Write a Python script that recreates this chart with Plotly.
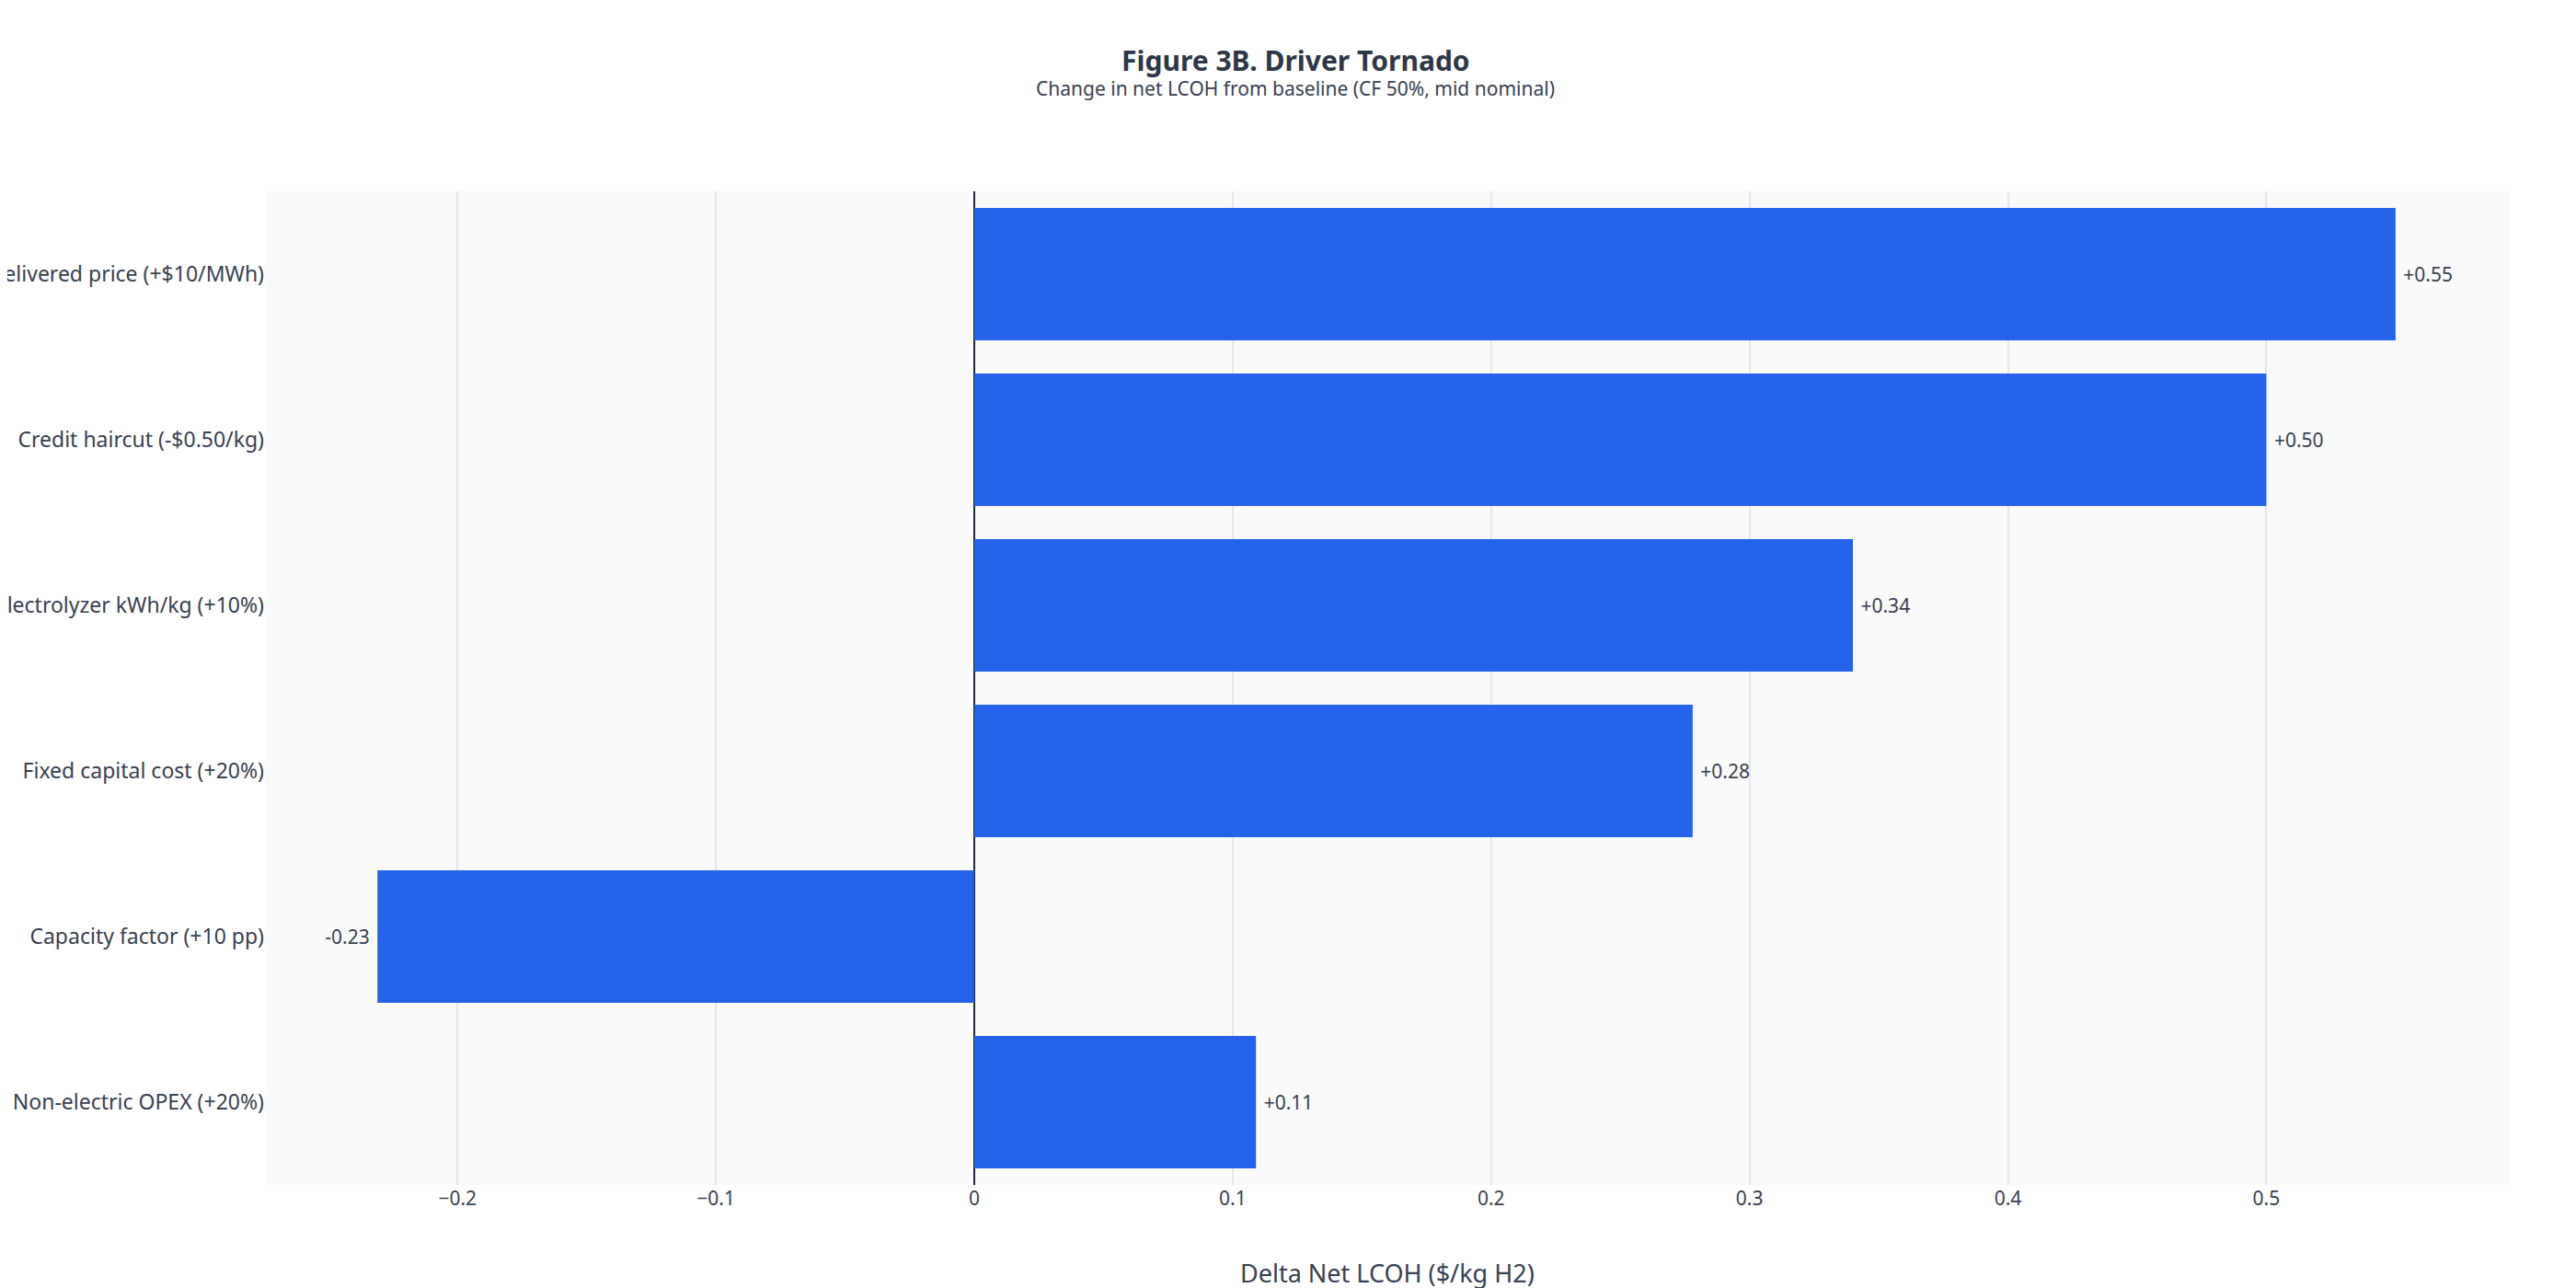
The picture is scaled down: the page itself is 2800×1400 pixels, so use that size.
import plotly.graph_objects as go

drivers = [
    "Electricity delivered price (+$10/MWh)",
    "Credit haircut (-$0.50/kg)",
    "Electrolyzer kWh/kg (+10%)",
    "Fixed capital cost (+20%)",
    "Capacity factor (+10 pp)",
    "Non-electric OPEX (+20%)",
]
deltas = [0.55, 0.50, 0.34, 0.278, -0.231, 0.109]
tick_vals = [-0.2, -0.1, 0, 0.1, 0.2, 0.3, 0.4, 0.5]
tick_text = ["\u22120.2", "\u22120.1", "0", "0.1", "0.2", "0.3", "0.4", "0.5"]

NB = "\u00a0"
labels = [(NB + f"{v:+.2f}") if v >= 0 else (f"{v:+.2f}" + NB) for v in deltas]

FONT = "Segoe UI, Noto Sans, Open Sans, sans-serif"
TXT = "#374151"

fig = go.Figure(
    go.Bar(
        y=drivers,
        x=deltas,
        orientation="h",
        marker=dict(color="#2563eb", line=dict(width=0)),
        text=labels,
        textposition="outside",
        textfont=dict(family=FONT, size=21, color=TXT),
        cliponaxis=False,
    )
)

fig.update_layout(
    width=2800,
    height=1400,
    margin=dict(l=280, r=80, t=200, b=120, autoexpand=False),
    paper_bgcolor="white",
    plot_bgcolor="#fafafa",
    bargap=0.2,
    showlegend=False,
    font=dict(family=FONT, color=TXT),
    annotations=[
        dict(text="<b>Figure 3B. Driver Tornado</b>", xref="paper", yref="paper",
             x=(1400 - 280) / 2440, y=(1280 - 58) / 1080, xanchor="center", yanchor="middle",
             showarrow=False, font=dict(family=FONT, size=30, color="#2d3748")),
        dict(text="Change in net LCOH from baseline (CF 50%, mid nominal)", xref="paper", yref="paper",
             x=(1400 - 280) / 2440, y=(1280 - 88) / 1080, xanchor="center", yanchor="middle",
             showarrow=False, font=dict(family=FONT, size=21, color=TXT)),
        dict(text="Delta Net LCOH ($/kg H2)", xref="paper", yref="paper",
             x=0.5, y=(1280 - 1375) / 1080, xanchor="center", yanchor="middle",
             showarrow=False, font=dict(family=FONT, size=27, color=TXT)),
    ],
)

fig.update_xaxes(
    range=[-0.2745, 0.5942],
    tickvals=tick_vals,
    ticktext=tick_text,
    showgrid=True,
    gridcolor="#e5e7eb",
    gridwidth=2,
    zeroline=True,
    zerolinecolor="#1f2937",
    zerolinewidth=2,
    showline=False,
    tickfont=dict(family=FONT, size=21, color=TXT),
    automargin=False,
)
fig.update_yaxes(
    autorange="reversed",
    showgrid=False,
    tickfont=dict(family=FONT, size=23, color=TXT),
    automargin=False,
    ticks="",
)

fig.write_html("out.html")
